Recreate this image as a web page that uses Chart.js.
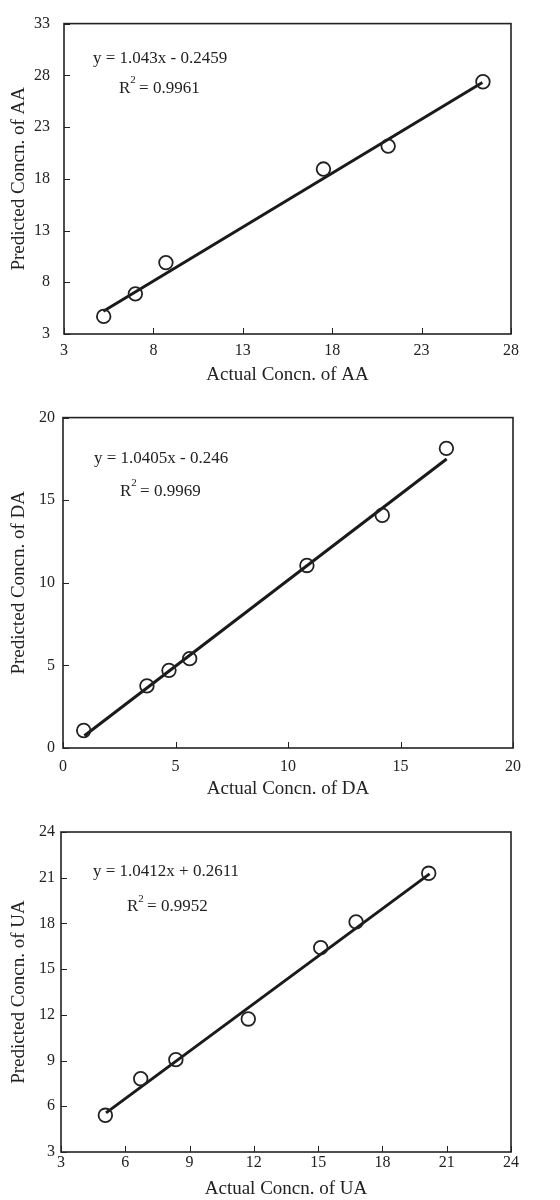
<!DOCTYPE html>
<html><head><meta charset="utf-8">
<script src="https://cdn.jsdelivr.net/npm/chart.js@4.4.1/dist/chart.umd.min.js"></script>
<style>
html,body{margin:0;padding:0;background:#fff;}
#wrap{position:relative;width:560px;height:1200px;}
canvas{position:absolute;left:0;}
</style></head><body>
<div id="wrap">
<canvas id="c1" width="560" height="392" style="top:0px"></canvas>
<canvas id="c2" width="560" height="400" style="top:400px"></canvas>
<canvas id="c3" width="560" height="400" style="top:800px"></canvas>
</div>
<script>
// ---------- data ----------
const aaActual    = [5.22, 6.99, 8.70, 17.51, 21.13, 26.43];
const aaPredicted = [4.70, 6.88, 9.90, 18.94, 21.16, 27.38];
const aaFitX = [5.2, 26.4];
const aaFitY = [5.2, 27.3];
const aaTicksX = [3, 8, 13, 18, 23, 28];
const aaTicksY = [3, 8, 13, 18, 23, 28, 33];

const daActual    = [0.92, 3.73, 4.71, 5.63, 10.84, 14.19, 17.04];
const daPredicted = [1.06, 3.76, 4.70, 5.41, 11.05, 14.09, 18.14];
const daFitX = [0.95, 17.05];
const daFitY = [0.74, 17.49];
const daTicksX = [0, 5, 10, 15, 20];
const daTicksY = [0, 5, 10, 15, 20];

const uaActual    = [5.07, 6.72, 8.36, 11.74, 15.12, 16.77, 20.16];
const uaPredicted = [5.41, 7.81, 9.06, 11.73, 16.41, 18.10, 21.29];
const uaFitX = [5.1, 20.2];
const uaFitY = [5.57, 21.25];
const uaTicksX = [3, 6, 9, 12, 15, 18, 21, 24];
const uaTicksY = [3, 6, 9, 12, 15, 18, 21, 24];

const titlesX = ['Actual Concn. of AA', 'Actual Concn. of DA', 'Actual Concn. of UA'];
const titlesY = ['Predicted Concn. of AA', 'Predicted Concn. of DA', 'Predicted Concn. of UA'];
const equations = ['y = 1.043x - 0.2459', 'y = 1.0405x - 0.246', 'y = 1.0412x + 0.2611'];
const r2Values = ['0.9961', '0.9969', '0.9952'];

// ---------- styling ----------
const FONT = '"Liberation Serif", "Times New Roman", serif';
const INK = '#222';

const framePlugin = {
  id: 'frameText',
  afterDraw(chart, args, opts) {
    const ctx = chart.ctx;
    const a = chart.chartArea;
    ctx.save();
    ctx.strokeStyle = INK;
    ctx.lineWidth = 1.6;
    ctx.strokeRect(a.left, a.top, a.right - a.left, a.bottom - a.top);
    ctx.lineWidth = 1;
    const xs = chart.scales.x, ys = chart.scales.y;
    ctx.beginPath();
    xs.ticks.forEach(t => {
      const p = Math.round(xs.getPixelForValue(t.value)) + 0.5;
      ctx.moveTo(p, a.bottom); ctx.lineTo(p, a.bottom - 6);
    });
    ys.ticks.forEach(t => {
      const p = Math.round(ys.getPixelForValue(t.value)) + 0.5;
      ctx.moveTo(a.left, p); ctx.lineTo(a.left + 6, p);
    });
    ctx.stroke();
    ctx.fillStyle = INK;
    ctx.textBaseline = 'middle';
    ctx.textAlign = 'left';
    ctx.font = '17px ' + FONT;
    ctx.fillText(opts.eq, a.left + opts.eqPos[0], a.top + opts.eqPos[1]);
    let x = a.left + opts.r2Pos[0], y = a.top + opts.r2Pos[1];
    ctx.fillText('R', x, y);
    const wR = ctx.measureText('R').width;
    ctx.font = '11px ' + FONT;
    ctx.fillText('2', x + wR, y - 8);
    const w2 = ctx.measureText('2').width;
    ctx.font = '17px ' + FONT;
    ctx.fillText(' = ' + opts.r2, x + wR + w2 - 1, y);
    ctx.restore();
  }
};

function toPts(xs, ys) { return xs.map((v, i) => ({x: v, y: ys[i]})); }

function makeChart(id, c) {
  const tickX = c.ticksX, tickY = c.ticksY;
  new Chart(document.getElementById(id), {
    type: 'scatter',
    data: {
      datasets: [
        { data: toPts(c.ax, c.py), pointStyle: 'circle', pointRadius: 6.8, pointHoverRadius: 6.8,
          borderColor: INK, backgroundColor: 'rgba(0,0,0,0)', pointBorderWidth: 1.8, borderWidth: 1.8, order: 1 },
        { data: toPts(c.fx, c.fy), showLine: true, pointRadius: 0, borderColor: '#1a1a1a',
          borderWidth: 3, fill: false, order: 2 }
      ]
    },
    options: {
      responsive: false, animation: false, devicePixelRatio: 1,
      layout: { padding: c.pad },
      plugins: {
        legend: { display: false }, tooltip: { enabled: false },
        frameText: { eq: c.eq, r2: c.r2, eqPos: c.eqPos, r2Pos: c.r2Pos }
      },
      scales: {
        x: {
          type: 'linear', min: tickX[0], max: tickX[tickX.length - 1],
          grid: { display: false, drawTicks: false }, border: { display: false },
          ticks: { stepSize: tickX[1] - tickX[0], autoSkip: false, maxRotation: 0, color: INK,
                   font: { family: FONT, size: 16 }, padding: c.xPad },
          title: { display: true, text: c.tx, color: INK, font: { family: FONT, size: 19 },
                   padding: { top: 0, bottom: c.xtPad } },
          afterFit: s => { s.height = c.xH; }
        },
        y: {
          type: 'linear', min: tickY[0], max: tickY[tickY.length - 1],
          grid: { display: false, drawTicks: false }, border: { display: false },
          ticks: { stepSize: tickY[1] - tickY[0], autoSkip: false, color: INK,
                   font: { family: FONT, size: 16 }, padding: c.yPad },
          title: { display: true, text: c.ty, color: INK, font: { family: FONT, size: 19 },
                   padding: { top: 8, bottom: 0 } },
          afterFit: s => { s.width = c.yW; }
        }
      }
    },
    plugins: [framePlugin]
  });
}

makeChart('c1', { ax: aaActual, py: aaPredicted, fx: aaFitX, fy: aaFitY, ticksX: aaTicksX, ticksY: aaTicksY,
  tx: titlesX[0], ty: titlesY[0], eq: equations[0], r2: r2Values[0],
  pad: { top: 23, right: 49, left: 0, bottom: 0 }, xH: 58, yW: 64, xPad: 7, yPad: 14, xtPad: 6,
  eqPos: [29, 35], r2Pos: [55, 65] });

makeChart('c2', { ax: daActual, py: daPredicted, fx: daFitX, fy: daFitY, ticksX: daTicksX, ticksY: daTicksY,
  tx: titlesX[1], ty: titlesY[1], eq: equations[1], r2: r2Values[1],
  pad: { top: 14, right: 47, left: 0, bottom: 0 }, xH: 52, yW: 63, xPad: 9, yPad: 8, xtPad: 0,
  eqPos: [31, 41], r2Pos: [57, 74] });

makeChart('c3', { ax: uaActual, py: uaPredicted, fx: uaFitX, fy: uaFitY, ticksX: uaTicksX, ticksY: uaTicksY,
  tx: titlesX[2], ty: titlesY[2], eq: equations[2], r2: r2Values[2],
  pad: { top: 32, right: 49, left: 0, bottom: 0 }, xH: 48, yW: 61, xPad: 1, yPad: 6, xtPad: 0,
  eqPos: [32, 40], r2Pos: [66, 75] });
</script>
</body></html>
